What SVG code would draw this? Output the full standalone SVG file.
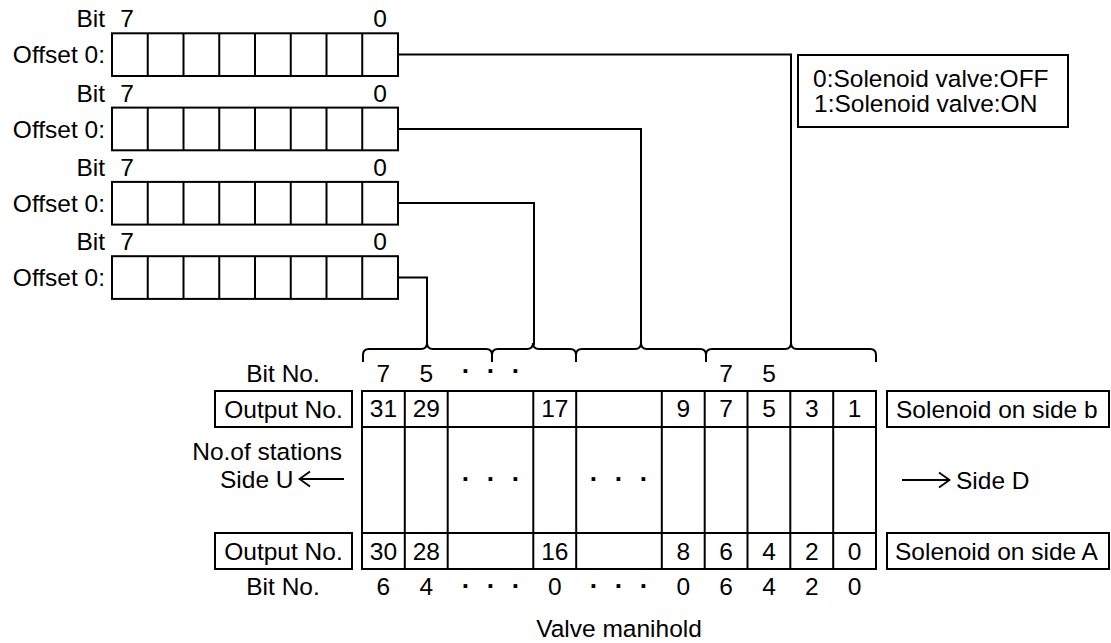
<svg xmlns="http://www.w3.org/2000/svg" width="1111" height="643" viewBox="0 0 1111 643">
<style>
text{font-family:"Liberation Sans",Arial,Helvetica,sans-serif;font-size:24.5px;fill:#000}
.m{text-anchor:middle}
.e{text-anchor:end}
.d{font-weight:bold;font-size:26px}
.box{fill:#fff;stroke:#000;stroke-width:2}
.ln{fill:none;stroke:#000;stroke-width:2}
.thin{fill:none;stroke:#000;stroke-width:1.8}
</style>
<defs>
<marker id="arr" viewBox="0 0 14 18" refX="13" refY="9" markerWidth="14" markerHeight="18" markerUnits="userSpaceOnUse" orient="auto">
<path d="M2 1.5 L12.5 9 L2 16.5" fill="none" stroke="#000" stroke-width="1.8"/>
</marker>
<g id="regcells">
<rect class="box" x="112" y="0" width="286" height="42.7"/>
<path class="ln" d="M147.75 0V42.7M183.5 0V42.7M219.25 0V42.7M255 0V42.7M290.75 0V42.7M326.5 0V42.7M362.25 0V42.7"/>
</g>
</defs>

<g id="reg1">
<text class="e" x="105" y="27">Bit</text><text class="m" x="127" y="27">7</text><text class="m" x="380" y="27">0</text>
<text class="e" x="105" y="63">Offset 0:</text>
<use href="#regcells" y="33.3"/>
</g>
<g id="reg2">
<text class="e" x="105" y="101.5">Bit</text><text class="m" x="127" y="101.5">7</text><text class="m" x="380" y="101.5">0</text>
<text class="e" x="105" y="137.5">Offset 0:</text>
<use href="#regcells" y="107.6"/>
</g>
<g id="reg3">
<text class="e" x="105" y="175.5">Bit</text><text class="m" x="127" y="175.5">7</text><text class="m" x="380" y="175.5">0</text>
<text class="e" x="105" y="211.5">Offset 0:</text>
<use href="#regcells" y="181.9"/>
</g>
<g id="reg4">
<text class="e" x="105" y="250">Bit</text><text class="m" x="127" y="250">7</text><text class="m" x="380" y="250">0</text>
<text class="e" x="105" y="286">Offset 0:</text>
<use href="#regcells" y="256.2"/>
</g>

<g id="legend">
<rect class="box" x="798" y="55" width="270" height="72"/>
<text x="813" y="87">0:Solenoid valve:OFF</text>
<text x="814" y="112">1:Solenoid valve:ON</text>
</g>

<g id="connectors">
<path class="ln" d="M398 54.5H791V345"/>
<path class="ln" d="M398 129H641V345"/>
<path class="ln" d="M398 203H534V345"/>
<path class="ln" d="M398 277.5H427V345"/>
<path class="ln" d="M363 362V355Q363 349 369 349H421Q427 349 427 343Q427 349 433 349H486Q492 349 492 355V362"/>
<path class="ln" d="M492 362V355Q492 349 498 349H527Q533 349 533 343Q533 349 539 349H570Q576 349 576 355V362"/>
<path class="ln" d="M576 362V355Q576 349 582 349H635Q641 349 641 343Q641 349 647 349H700Q706 349 706 355V362"/>
<path class="ln" d="M706 362V355Q706 349 712 349H785Q791 349 791 343Q791 349 797 349H870Q876 349 876 355V362"/>
</g>

<g id="bitno-top">
<text class="m" x="283" y="382">Bit No.</text>
<text class="m" x="383.4" y="382">7</text>
<text class="m" x="426.3" y="382">5</text>
<text class="m d" x="466 491 516" y="380">···</text>
<text class="m" x="726.1" y="382">7</text>
<text class="m" x="769" y="382">5</text>
</g>

<g id="output-top">
<rect class="box" x="215" y="391" width="137" height="36"/>
<text class="m" x="283.5" y="418">Output No.</text>
</g>
<g id="output-bottom">
<rect class="box" x="215" y="533" width="137" height="36"/>
<text class="m" x="283.5" y="560">Output No.</text>
</g>

<g id="side-u">
<text class="e" x="342" y="460">No.of stations</text>
<text x="220" y="488">Side U</text>
<line class="thin" x1="344" y1="479" x2="299" y2="479" marker-end="url(#arr)"/>
</g>

<g id="manifold">
<rect class="box" x="362" y="391" width="514" height="178"/>
<path class="ln" d="M362 427H876M362 533H876"/>
<path class="ln" d="M404.8 391V569M447.7 391V569M533.3 391V569M576.2 391V569M661.8 391V569M704.7 391V569M747.5 391V569M790.3 391V569M833.2 391V569"/>
<text class="m" x="383.4" y="417">31</text>
<text class="m" x="426.3" y="417">29</text>
<text class="m" x="554.8" y="417">17</text>
<text class="m" x="683.3" y="417">9</text>
<text class="m" x="726.1" y="417">7</text>
<text class="m" x="769" y="417">5</text>
<text class="m" x="811.8" y="417">3</text>
<text class="m" x="854.6" y="417">1</text>
<text class="m d" x="466 491 516" y="488">···</text>
<text class="m d" x="594 619 644" y="488">···</text>
<text class="m" x="383.4" y="560">30</text>
<text class="m" x="426.3" y="560">28</text>
<text class="m" x="554.8" y="560">16</text>
<text class="m" x="683.3" y="560">8</text>
<text class="m" x="726.1" y="560">6</text>
<text class="m" x="769" y="560">4</text>
<text class="m" x="811.8" y="560">2</text>
<text class="m" x="854.6" y="560">0</text>
</g>

<g id="bitno-bottom">
<text class="m" x="283" y="595">Bit No.</text>
<text class="m" x="383.4" y="595">6</text>
<text class="m" x="426.3" y="595">4</text>
<text class="m d" x="466 491 516" y="595">···</text>
<text class="m" x="554.8" y="595">0</text>
<text class="m d" x="594 619 644" y="595">···</text>
<text class="m" x="683.3" y="595">0</text>
<text class="m" x="726.1" y="595">6</text>
<text class="m" x="769" y="595">4</text>
<text class="m" x="811.8" y="595">2</text>
<text class="m" x="854.6" y="595">0</text>
</g>

<g id="solenoid-b">
<rect class="box" x="887" y="391" width="222" height="36"/>
<text x="896" y="418">Solenoid on side b</text>
</g>
<g id="side-d">
<line class="thin" x1="902" y1="480" x2="950" y2="480" marker-end="url(#arr)"/>
<text x="956" y="489">Side D</text>
</g>
<g id="solenoid-a">
<rect class="box" x="887" y="533" width="222" height="36"/>
<text x="895" y="560">Solenoid on side A</text>
</g>

<g id="caption">
<text class="m" x="619" y="637">Valve manihold</text>
</g>
</svg>
